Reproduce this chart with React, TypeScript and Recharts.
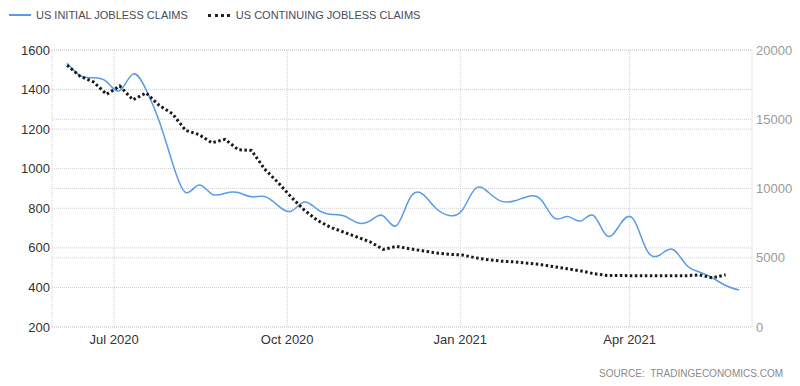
import { LineChart, Line, XAxis, YAxis, CartesianGrid } from 'recharts'

const weeks = [
  '2020-06-06', '2020-06-13', '2020-06-20', '2020-06-27',
  '2020-07-04', '2020-07-11', '2020-07-18', '2020-07-25',
  '2020-08-01', '2020-08-08', '2020-08-15', '2020-08-22', '2020-08-29',
  '2020-09-05', '2020-09-12', '2020-09-19', '2020-09-26',
  '2020-10-03', '2020-10-10', '2020-10-17', '2020-10-24', '2020-10-31',
  '2020-11-07', '2020-11-14', '2020-11-21', '2020-11-28',
  '2020-12-05', '2020-12-12', '2020-12-19', '2020-12-26',
  '2021-01-02', '2021-01-09', '2021-01-16', '2021-01-23', '2021-01-30',
  '2021-02-06', '2021-02-13', '2021-02-20', '2021-02-27',
  '2021-03-06', '2021-03-13', '2021-03-20', '2021-03-27',
  '2021-04-03', '2021-04-10', '2021-04-17', '2021-04-24',
  '2021-05-01', '2021-05-08', '2021-05-15', '2021-05-22', '2021-05-29',
]

// thousands, left axis
const initialClaims = [
  1533, 1470, 1460, 1440,
  1395, 1478, 1400, 1240,
  1030, 880, 918, 872, 876,
  880, 858, 860, 815,
  785, 832, 795, 770, 762,
  728, 736, 762, 712,
  848, 872, 800, 764,
  790, 900, 880, 835, 838,
  860, 842, 750, 758,
  736, 762, 660, 720,
  745, 590, 564, 592,
  515, 478, 448, 410, 387,
]

// thousands, right axis (one week behind)
const continuingClaims = [
  18900, 18100, 17700, 16800,
  17400, 16400, 16900, 16000,
  15400, 14200, 13900, 13300, 13550,
  12800, 12750, 11400, 10450,
  9400, 8450, 7700, 7200, 6850,
  6500, 6150, 5600, 5820,
  5650, 5500, 5350, 5250,
  5200, 5000, 4850, 4750, 4700,
  4600, 4500, 4350, 4200,
  4050, 3850, 3720, 3720,
  3700, 3700, 3700, 3700,
  3700, 3760, 3550, 3770, null,
]

const xTickDates = ['2020-07-01', '2020-10-01', '2021-01-01', '2021-04-01']
const xTickLabels = ['Jul 2020', 'Oct 2020', 'Jan 2021', 'Apr 2021']
const leftTicks = [200, 400, 600, 800, 1000, 1200, 1400, 1600]
const rightTicks = [0, 5000, 10000, 15000, 20000]

const data = weeks.map((w, i) => ({
  t: Date.parse(w),
  initial: initialClaims[i],
  continuing: continuingClaims[i],
}))

const xTicks = xTickDates.map(d => Date.parse(d))
const font = 'Arial, "Liberation Sans", sans-serif'
const blue = '#5b9be6'

export default function App() {
  return (
    <div style={{ position: 'absolute', left: 0, top: 0, width: 800, height: 386, background: '#fff', fontFamily: font }}>
      <div style={{ position: 'absolute', left: 9, top: 9, display: 'flex', alignItems: 'center', fontSize: 11, color: '#4a4a55' }}>
        <span style={{ display: 'inline-block', width: 22, height: 2, background: blue, marginRight: 5 }} />
        <span>US INITIAL JOBLESS CLAIMS</span>
        <span style={{ display: 'inline-block', width: 22, height: 0, borderTop: '3px dotted #222', marginLeft: 20, marginRight: 6 }} />
        <span>US CONTINUING JOBLESS CLAIMS</span>
      </div>

      <LineChart width={800} height={386} data={data} margin={{ top: 50, right: 0, bottom: 0, left: 0 }}>
        <CartesianGrid yAxisId="left" stroke="#d0d0d0" strokeDasharray="1 1" />
        <CartesianGrid yAxisId="right" vertical={false} stroke="#d0d0d0" strokeDasharray="1 1" />
        <XAxis
          dataKey="t"
          type="number"
          scale="time"
          domain={[Date.parse('2020-05-29'), Date.parse('2021-06-05')]}
          ticks={xTicks}
          tickFormatter={v => xTickLabels[xTicks.indexOf(v)] ?? ''}
          tick={{ fill: '#333', fontSize: 13, fontFamily: font }}
          axisLine={false}
          tickLine={false}
          height={59}
        />
        <YAxis
          yAxisId="left"
          domain={[200, 1600]}
          ticks={leftTicks}
          tick={{ fill: '#333', fontSize: 13, fontFamily: font }}
          axisLine={false}
          tickLine={false}
          tickSize={0}
          tickMargin={2}
          width={52}
        />
        <YAxis
          yAxisId="right"
          orientation="right"
          domain={[0, 20000]}
          ticks={rightTicks}
          tick={{ fill: '#9a9a9a', fontSize: 13, fontFamily: font }}
          axisLine={false}
          tickLine={false}
          tickSize={0}
          tickMargin={4}
          width={48}
        />
        <Line
          yAxisId="left"
          type="natural"
          dataKey="initial"
          stroke={blue}
          strokeWidth={1.5}
          dot={false}
          isAnimationActive={false}
        />
        <Line
          yAxisId="right"
          type="linear"
          dataKey="continuing"
          stroke="#1a1a1a"
          strokeWidth={3}
          strokeDasharray="2.5 2.5"
          dot={false}
          connectNulls={false}
          isAnimationActive={false}
        />
      </LineChart>

      <div style={{ position: 'absolute', right: 17, top: 368, fontSize: 10, color: '#8a8a8a', whiteSpace: 'nowrap' }}>
        SOURCE:&nbsp;&nbsp;TRADINGECONOMICS.COM
      </div>
    </div>
  )
}
